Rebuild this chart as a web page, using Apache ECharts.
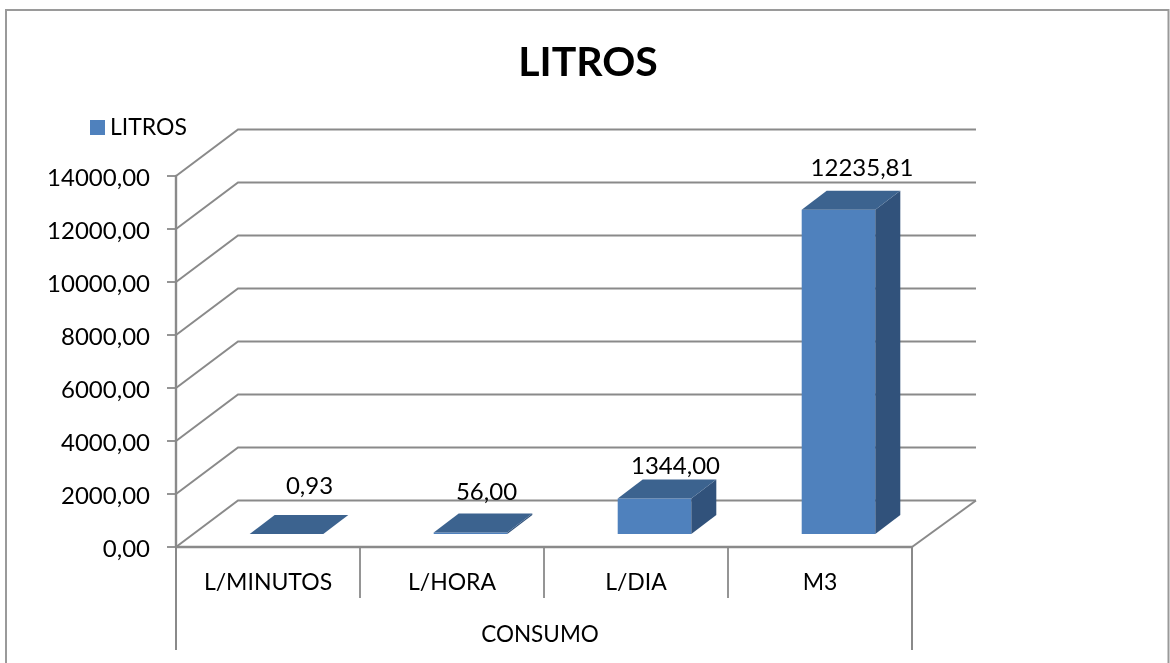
<!DOCTYPE html>
<html>
<head>
<meta charset="utf-8">
<style>html,body{margin:0;padding:0;background:#fff}#c{width:1170px;height:663px}</style>
<script src="https://cdn.jsdelivr.net/npm/echarts@6/dist/echarts.min.js"></script>
</head>
<body>
<div id="c"></div>
<script>
const categories = ['L/MINUTOS', 'L/HORA', 'L/DIA', 'M3'];
const litros = [0.93, 56.00, 1344.00, 12235.81];
const yTicks = [0, 2000, 4000, 6000, 8000, 10000, 12000, 14000];
const seriesName = 'LITROS';
const axisName = 'CONSUMO';

// 3D projection look, in pixels
const WALL = { dx: 62, dy: -46.5, rightExtra: 2 };
const BAR = { widthRatio: 0.4, shiftX: 18.5, shiftY: -13, dx: 25, dy: -19 };
const labelNudge = [[23, -29], [16, -21], [21, -13], [23.5, -22]];
const fontFamily = 'Lato, "Open Sans", sans-serif';
const gray = '#8a8a8a';
const fmt = v => v.toFixed(2).replace('.', ',');

function renderWall(params, api) {
  const v = api.value(1);
  const band = api.size([1, 0])[0];
  const l = api.coord([0, v]);
  const r = api.coord([categories.length - 1, v]);
  const x0 = l[0] - band / 2, x1 = r[0] + band / 2, y = l[1];
  const pts = [[x0, y], [x0 + WALL.dx, y + WALL.dy], [x1 + WALL.dx + WALL.rightExtra, y + WALL.dy]];
  const style = { stroke: gray, lineWidth: 2, fill: null };
  const kids = [{ type: 'polyline', shape: { points: pts }, style }];
  if (v === 0) {
    kids.push({ type: 'line', shape: { x1: x1, y1: y, x2: x1 + WALL.dx + WALL.rightExtra, y2: y + WALL.dy }, style });
    kids.push({ type: 'line', shape: { x1: x0, y1: y, x2: x0, y2: y + 103 }, style });
    kids.push({ type: 'line', shape: { x1: x1, y1: y, x2: x1, y2: y + 103 }, style });
  }
  return { type: 'group', children: kids };
}

function renderBar(params, api) {
  const i = api.value(0), v = api.value(1);
  const band = api.size([1, 0])[0];
  const w = band * BAR.widthRatio;
  const base = api.coord([i, 0]);
  const top = api.coord([i, v]);
  const xl = base[0] + BAR.shiftX - w / 2, xr = xl + w;
  const yb = base[1] + BAR.shiftY, yt = top[1] + BAR.shiftY;
  const d = BAR.dx, e = BAR.dy;
  const n = labelNudge[i];
  return {
    type: 'group',
    children: [
      { type: 'rect', shape: { x: xl, y: yt, width: w, height: yb - yt },
        style: { fill: '#4F81BD' } },
      { type: 'polygon', shape: { points: [[xr, yt], [xr + d, yt + e], [xr + d, yb + e], [xr, yb]] },
        style: { fill: '#31527B' } },
      { type: 'polygon', shape: { points: [[xl, yt], [xl + d, yt + e], [xr + d, yt + e], [xr, yt]] },
        style: { fill: '#3C638F' } },
      { type: 'text', x: xl + w / 2 + n[0], y: yt + e + n[1],
        style: { text: fmt(v), fill: '#000', font: '24px ' + fontFamily, align: 'center', verticalAlign: 'middle' } }
    ]
  };
}

const chart = echarts.init(document.getElementById('c'), null, { renderer: 'canvas' });
chart.setOption({
  animation: false,
  backgroundColor: '#fff',
  title: {
    text: seriesName, left: 583, top: 37, textAlign: 'center',
    textStyle: { fontFamily, fontWeight: 'bold', fontSize: 41, color: '#000' }
  },
  legend: {
    data: [{ name: seriesName, icon: 'rect', itemStyle: { color: '#4F81BD' } }],
    left: 85, top: 111, itemWidth: 15, itemHeight: 15, itemGap: 6,
    textStyle: { fontFamily, fontSize: 23, color: '#000', padding: [0, 0, 3, 0] }
  },
  grid: { left: 176, right: 258, top: 176, bottom: 116 },
  xAxis: {
    type: 'category', data: categories,
    name: axisName, nameLocation: 'middle', nameGap: 76,
    nameTextStyle: { fontFamily, fontSize: 22.5, color: '#000', padding: [0, 8, 0, 0] },
    axisLine: { lineStyle: { color: gray, width: 2.4 } },
    axisTick: { show: true, length: 51, lineStyle: { color: gray, width: 1.8 } },
    axisLabel: { fontFamily, fontSize: 23, color: '#000', margin: 24 },
    splitLine: { show: false }
  },
  yAxis: {
    type: 'value', min: 0, max: 14000, interval: 2000,
    axisLine: { show: true, lineStyle: { color: gray, width: 2.4 } },
    axisTick: { show: true, length: 9, lineStyle: { color: gray, width: 1.8 } },
    axisLabel: { fontFamily, fontSize: 24, color: '#000', margin: 26, verticalAlign: 'top', lineHeight: 4, formatter: v => fmt(v) },
    splitLine: { show: false }
  },
  graphic: [{
    type: 'polyline', silent: true, z: -1,
    shape: { points: [[6, 663], [6, 10], [1168.5, 10], [1168.5, 663]] },
    style: { stroke: '#9a9a9a', lineWidth: 2, fill: null }
  }],
  series: [
    { type: 'custom', name: 'walls', coordinateSystem: 'cartesian2d', clip: false, silent: true, z: 1,
      renderItem: renderWall, encode: { x: 0, y: 1 },
      data: yTicks.map(v => [0, v]) },
    { type: 'custom', name: seriesName, coordinateSystem: 'cartesian2d', clip: false, silent: true, z: 3,
      itemStyle: { color: '#4F81BD' },
      renderItem: renderBar, encode: { x: 0, y: 1 },
      data: litros.map((v, i) => [i, v]) }
  ]
});
</script>
</body>
</html>
